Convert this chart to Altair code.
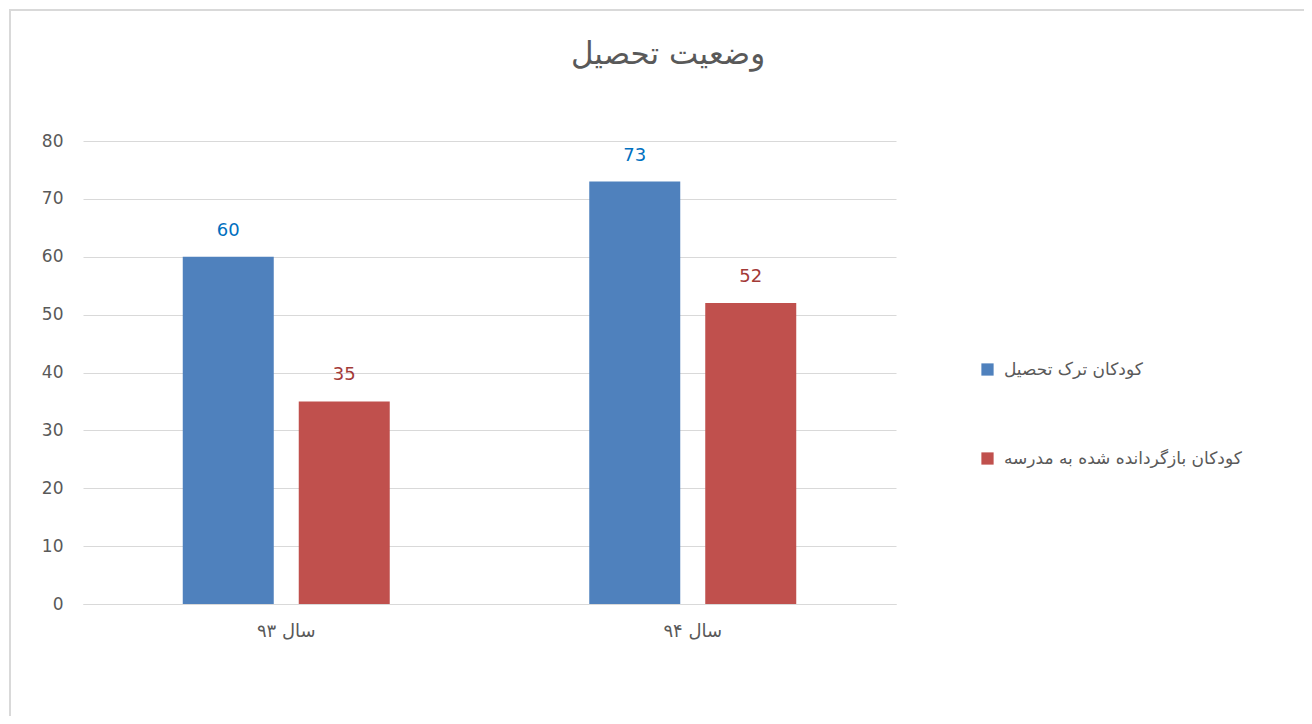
import altair as alt
import pandas as pd

title_text = ["وضعیت تحصیل"]
years = ["سال ۹۳", "سال ۹۴"]
series = ["کودکان ترک تحصیل", "کودکان بازگردانده شده به مدرسه"]
dropouts = [60, 73]
returned = [35, 52]
bar_colors = ["#4F81BD", "#C0504D"]
label_colors = ["#0070C0", "#A33A37"]

rows = []
for i, y in enumerate(years):
    rows.append({"year": y, "series": series[0], "value": dropouts[i]})
    rows.append({"year": y, "series": series[1], "value": returned[i]})
df = pd.DataFrame(rows)

FONT = "DejaVu Sans"
TXT = "#595959"

x_enc = alt.X("year:N", sort=years, title=None,
              scale=alt.Scale(paddingInner=0, paddingOuter=0),
              axis=alt.Axis(labelAngle=0, labelFontSize=18, labelColor=TXT, labelFont=FONT,
                            ticks=False, domain=True, domainColor="#d9d9d9", labelPadding=18))
xoff = alt.XOffset("series:N", sort=series,
                   scale=alt.Scale(paddingInner=0.2155, paddingOuter=0.86))

bars = alt.Chart(df).mark_bar().encode(
    x=x_enc,
    xOffset=xoff,
    y=alt.Y("value:Q", title=None,
            scale=alt.Scale(domain=[0, 80]),
            axis=alt.Axis(values=list(range(0, 81, 10)), labelFontSize=17, labelColor=TXT,
                          labelFont=FONT, ticks=False, domain=False, gridColor="#d9d9d9",
                          labelPadding=20)),
    color=alt.Color("series:N", sort=series,
                    scale=alt.Scale(domain=series, range=bar_colors),
                    legend=alt.Legend(title=None, orient="none", legendX=896, legendY=220,
                                      symbolType="square", symbolSize=150, symbolStrokeWidth=0,
                                      labelFontSize=17, labelColor=TXT, labelFont=FONT,
                                      labelLimit=400, rowPadding=71, labelOffset=8)),
)

labels = alt.Chart(df).mark_text(dy=-26, fontSize=18, font=FONT).encode(
    x=alt.X("year:N", sort=years),
    xOffset=xoff,
    y=alt.Y("value:Q"),
    text=alt.Text("value:Q"),
    color=alt.Color("series:N", sort=series,
                    scale=alt.Scale(domain=series, range=label_colors), legend=None),
)

frame = alt.Chart(df).mark_rect(fill=None, stroke="#d9d9d9", strokeWidth=1.5, clip=False).encode(
    x=alt.value(-73), x2=alt.value(1300), y=alt.value(-131), y2=alt.value(700)
)

title = alt.Chart(pd.DataFrame({"t": title_text})).mark_text(
    fontSize=31, font=FONT, color=TXT, baseline="middle", align="center"
).encode(text="t:N", x=alt.value(585), y=alt.value(-86))

chart = alt.layer(frame, bars, labels, title).resolve_scale(color="independent").properties(
    width=813, height=463,
    autosize=alt.AutoSizeParams(type="none"),
    padding={"left": 75, "top": 133, "right": 408, "bottom": 112},
).configure_view(stroke=None)

chart.save("out.html", embed_options={"renderer": "svg", "actions": False})
